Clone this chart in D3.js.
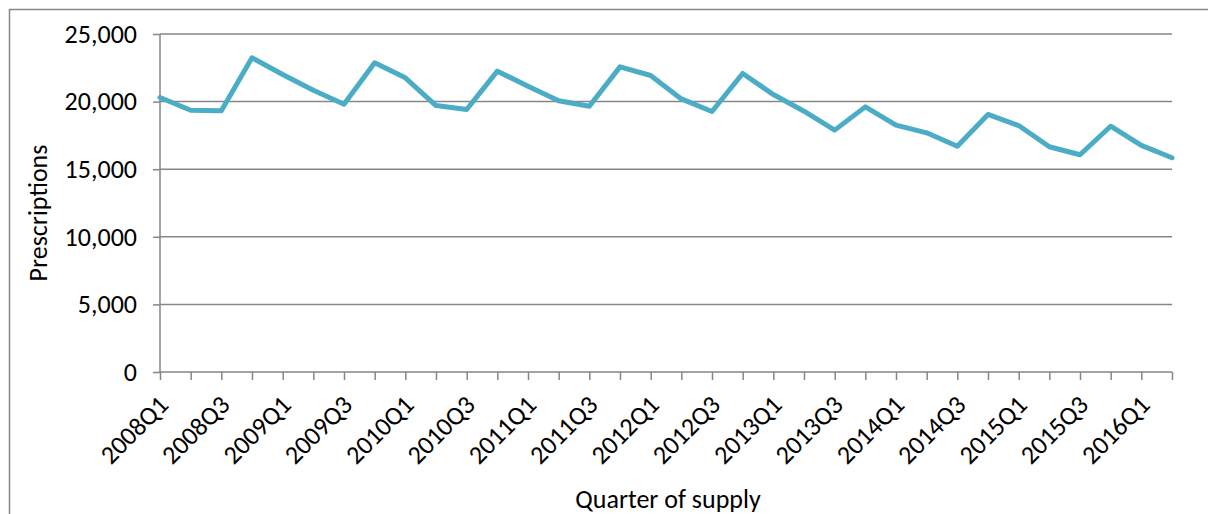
<!DOCTYPE html>
<html>
<head>
<meta charset="utf-8">
<script src="https://cdn.jsdelivr.net/npm/d3@7"></script>
<style>
  body { margin: 0; background: #fff; }
  svg { display: block; font-family: Carlito, Calibri, 'Open Sans', sans-serif; }
  .axis path, .axis line { stroke: #868686; stroke-width: 1.5; }
  .axis text { fill: #000; font-size: 26px; font-family: Carlito, Calibri, 'Open Sans', sans-serif; }
  .grid line { stroke: #868686; stroke-width: 1.5; }
</style>
</head>
<body>
<svg id="chart"></svg>
<script>
const quarters = [
  '2008Q1', '2008Q2', '2008Q3', '2008Q4',
  '2009Q1', '2009Q2', '2009Q3', '2009Q4',
  '2010Q1', '2010Q2', '2010Q3', '2010Q4',
  '2011Q1', '2011Q2', '2011Q3', '2011Q4',
  '2012Q1', '2012Q2', '2012Q3', '2012Q4',
  '2013Q1', '2013Q2', '2013Q3', '2013Q4',
  '2014Q1', '2014Q2', '2014Q3', '2014Q4',
  '2015Q1', '2015Q2', '2015Q3', '2015Q4',
  '2016Q1', '2016Q2'
];

const prescriptions = [
  20300, 19360, 19320, 23240,
  22000, 20840, 19810, 22870,
  21760, 19710, 19420, 22250,
  21140, 20060, 19660, 22570,
  21930, 20200, 19270, 22080,
  20520, 19290, 17890, 19610,
  18260, 17690, 16700, 19050,
  18230, 16660, 16070, 18180,
  16760, 15850
];

const yTicks = [0, 5000, 10000, 15000, 20000, 25000];

const width = 1208;
const height = 514;
const plot = { left: 160, right: 1172, top: 34, bottom: 372 };

const svg = d3.select('#chart')
  .attr('width', width)
  .attr('height', height);

// outer chart border (runs off the right and bottom edges)
svg.append('rect')
  .attr('x', 9.5)
  .attr('y', 9.5)
  .attr('width', width + 20)
  .attr('height', height + 20)
  .attr('fill', 'none')
  .attr('stroke', '#868686')
  .attr('stroke-width', 1.5);

let x = d3.scalePoint()
  .domain(quarters)
  .range([plot.left, plot.right]);

let y = d3.scaleLinear()
  .domain([0, 25000])
  .range([plot.bottom, plot.top]);

// horizontal gridlines
svg.append('g')
  .attr('class', 'grid')
  .selectAll('line')
  .data(yTicks.filter(d => d > 0))
  .enter()
  .append('line')
  .attr('x1', plot.left)
  .attr('x2', plot.right)
  .attr('y1', d => y(d))
  .attr('y2', d => y(d));

let yAxis = d3.axisLeft(y)
  .tickValues(yTicks)
  .tickSize(7)
  .tickPadding(16)
  .tickFormat(d3.format(','));

svg.append('g')
  .attr('class', 'y axis')
  .attr('transform', 'translate(' + plot.left + ',0)')
  .call(yAxis)
  .attr('font-family', null)
  .attr('font-size', null)
  .call(g => g.select('.domain').attr('d', 'M0,' + plot.top + 'V' + plot.bottom));

let xAxis = d3.axisBottom(x)
  .tickSize(8)
  .tickFormat((d, i) => i % 2 === 0 ? d : '');

const xg = svg.append('g')
  .attr('class', 'x axis')
  .attr('transform', 'translate(0,' + plot.bottom + ')')
  .call(xAxis)
  .attr('font-family', null)
  .attr('font-size', null)
  .call(g => g.select('.domain').attr('d', 'M' + plot.left + ',0H' + plot.right));

xg.selectAll('.tick text')
  .attr('text-anchor', 'end')
  .attr('transform', 'translate(3,28) rotate(-45)')
  .attr('x', 0)
  .attr('y', 0)
  .attr('dy', '0.35em');

const line = d3.line()
  .x((d, i) => x(quarters[i]))
  .y(d => y(d));

svg.append('path')
  .datum(prescriptions)
  .attr('fill', 'none')
  .attr('stroke', '#4BACC6')
  .attr('stroke-width', 5)
  .attr('stroke-linejoin', 'round')
  .attr('stroke-linecap', 'round')
  .attr('d', line);

svg.append('text')
  .attr('transform', 'translate(47,' + ((plot.top + plot.bottom) / 2 + 10) + ') rotate(-90)')
  .attr('text-anchor', 'middle')
  .attr('font-size', 26)
  .text('Prescriptions');

svg.append('text')
  .attr('x', 668)
  .attr('y', 508)
  .attr('text-anchor', 'middle')
  .attr('font-size', 26)
  .text('Quarter of supply');
</script>
</body>
</html>
